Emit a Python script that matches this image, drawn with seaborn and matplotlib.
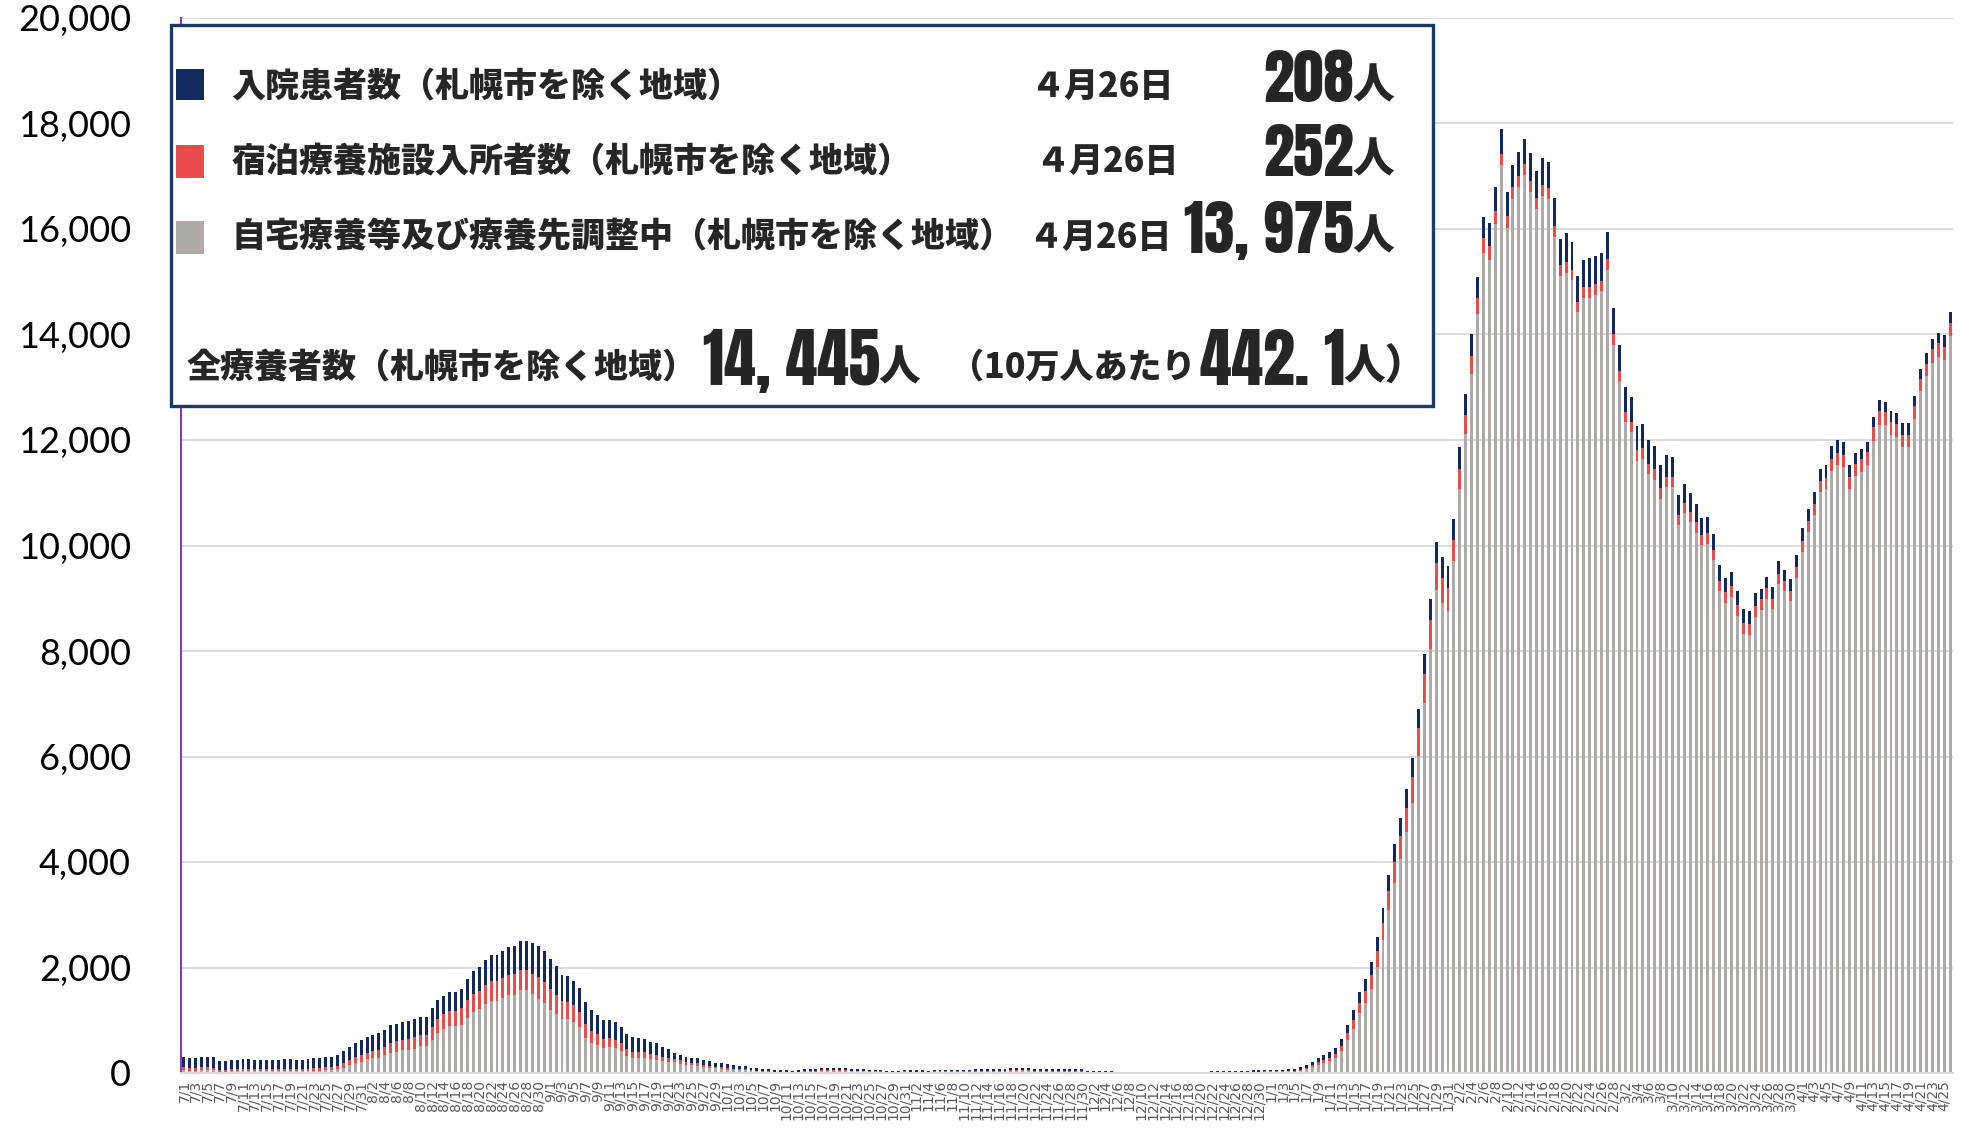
import pandas as pd
import seaborn as sns
import matplotlib.pyplot as plt
from matplotlib.patches import Rectangle

# 全療養者数（札幌市を除く地域）日別 7/1 - 4/26
total_jul = [305, 290, 290, 305, 305, 300, 223, 223, 248, 255, 268, 268, 255, 248, 248, 248, 255, 268,
             268, 248, 248, 268, 280, 287, 300, 300, 338, 408, 497, 573, 618]
total_aug = [688, 726, 752, 815, 905, 936, 962, 987, 1019, 1070, 1070, 1223, 1376, 1465, 1542, 1542,
             1599, 1790, 1930, 2013, 2140, 2230, 2230, 2312, 2395, 2408, 2503, 2503, 2459, 2401, 2312]
total_sep = [2153, 2026, 1860, 1835, 1745, 1605, 1344, 1198, 1108, 1013, 1013, 962, 879, 739, 675,
             662, 643, 580, 560, 484, 452, 382, 344, 306, 293, 280, 242, 223, 197, 185]
total_oct = [166, 153, 140, 127, 102, 89, 76, 70, 62, 55, 54, 40, 54, 81, 81, 81, 100, 100, 100, 100,
             100, 81, 81, 81, 61, 61, 61, 47, 47, 47, 61]
total_nov = [54, 54, 54, 40, 61, 61, 61, 61, 61, 61, 61, 74, 81, 81, 74, 74, 81, 95, 95, 95, 95, 81,
             81, 81, 81, 81, 81, 74, 74, 74]
total_dec = [47, 47, 40, 40, 34, 27, 27, 27, 27, 27, 27, 27, 20, 20, 20, 27, 27, 27, 27, 27, 27, 40,
             40, 40, 40, 40, 40, 40, 54, 54, 61]
total_jan = [61, 61, 61, 81, 74, 108, 156, 217, 291, 345, 393, 475, 653, 914, 1187, 1543, 1780, 2101,
             2576, 3134, 3763, 4333, 4831, 5377, 5971, 6908, 7941, 8986, 10066, 9781, 9603]
total_feb = [10505, 11870, 12867, 14007, 15099, 16226, 16108, 16796, 17888, 16701, 17212, 17461,
             17698, 17437, 17105, 17354, 17271, 16582, 15811, 15918, 15763, 15111, 15407, 15443,
             15490, 15538, 15941, 14505]
total_mar = [13793, 13010, 12808, 12262, 12309, 12000, 11886, 11520, 11713, 11684, 10961, 11173,
             10999, 10787, 10517, 10537, 10209, 9621, 9380, 9495, 9139, 8801, 8753, 9091, 9177, 9409,
             9206, 9698, 9544, 9370, 9823]
total_apr = [10324, 10691, 11019, 11452, 11529, 11886, 11992, 11954, 11529, 11761, 11838, 11954,
             12436, 12763, 12725, 12551, 12513, 12320, 12320, 12831, 13351, 13641, 13911, 14026,
             13988, 14435]

# 入院患者数
hosp_jul = [200, 195, 195, 200, 200, 200, 175, 175, 180, 180, 185, 185, 180, 178, 178, 178, 180, 185,
            185, 178, 178, 185, 188, 190, 195, 195, 205, 225, 245, 265, 275]
hosp_aug = [300, 310, 315, 320, 330, 335, 335, 340, 345, 345, 345, 344, 350, 355, 360, 360, 370, 410,
            430, 450, 470, 490, 495, 510, 530, 540, 554, 553, 575, 590, 590]
hosp_sep = [570, 550, 500, 480, 460, 440, 420, 400, 370, 360, 350, 330, 310, 286, 270, 260, 250, 223,
            210, 180, 160, 108, 100, 100, 95, 95, 90, 85, 80, 75]
hosp_oct = [75, 70, 65, 60, 50, 45, 40, 38, 34, 30, 30, 22, 30, 40, 40, 40, 45, 45, 45, 45, 45, 38,
            38, 38, 30, 30, 30, 24, 24, 24, 30]
hosp_nov = [28, 28, 28, 22, 30, 30, 30, 30, 30, 30, 30, 34, 38, 38, 34, 34, 38, 42, 42, 42, 42, 38,
            38, 38, 38, 38, 38, 34, 34, 34]
hosp_dec = [26, 26, 22, 22, 20, 16, 16, 16, 16, 16, 16, 16, 12, 12, 12, 16, 16, 16, 16, 16, 16, 22,
            22, 22, 22, 22, 22, 22, 28, 28, 30]
hosp_jan = [30, 30, 30, 40, 38, 50, 60, 70, 85, 95, 105, 120, 140, 160, 185, 210, 230, 250, 270, 290,
            310, 330, 345, 355, 365, 375, 380, 390, 392, 395, 400]
hosp_feb = [400, 415, 400, 420, 410, 403, 430, 450, 463, 450, 415, 450, 463, 520, 510, 520, 500, 534,
            500, 546, 534, 487, 510, 546, 534, 522, 510, 500]
hosp_mar = [480, 470, 460, 455, 455, 450, 440, 430, 405, 376, 376, 366, 366, 347, 318, 308, 300, 290,
            270, 270, 270, 270, 240, 240, 200, 222, 212, 240, 212, 231, 231]
hosp_apr = [240, 231, 231, 222, 241, 250, 231, 241, 222, 212, 193, 183, 193, 222, 193, 202, 212, 222,
            222, 193, 193, 193, 193, 193, 222, 208]

# 宿泊療養施設入所者数
hotel_jul = [50, 50, 50, 50, 50, 50, 30, 30, 32, 34, 36, 36, 34, 32, 32, 32, 34, 36, 36, 34, 34, 40,
             45, 50, 55, 55, 65, 80, 100, 115, 125]
hotel_aug = [130, 140, 145, 155, 190, 195, 200, 205, 210, 220, 220, 249, 270, 285, 300, 300, 310, 330,
             340, 350, 360, 370, 370, 375, 380, 385, 370, 370, 390, 400, 400]
hotel_sep = [380, 360, 340, 330, 320, 300, 260, 230, 200, 180, 175, 160, 150, 130, 120, 115, 110, 100,
             95, 85, 80, 70, 65, 55, 50, 45, 40, 35, 30, 28]
hotel_oct = [25, 22, 20, 18, 14, 12, 10, 10, 9, 8, 8, 6, 8, 14, 14, 14, 18, 18, 18, 18, 18, 14, 14, 14,
             10, 10, 10, 8, 8, 8, 10]
hotel_nov = [10, 10, 10, 6, 12, 12, 12, 12, 12, 12, 12, 16, 18, 18, 16, 16, 18, 22, 22, 22, 22, 18, 18,
             18, 18, 18, 18, 14, 14, 14]
hotel_dec = [6, 6, 5, 5, 4, 3, 3, 3, 3, 3, 3, 3, 2, 2, 2, 3, 3, 3, 3, 3, 3, 5, 5, 5, 5, 5, 5, 5, 8, 8, 10]
hotel_jan = [10, 10, 10, 12, 12, 18, 25, 35, 45, 55, 65, 80, 100, 130, 160, 190, 220, 250, 290, 320,
             360, 400, 430, 460, 490, 520, 540, 558, 510, 470, 450]
hotel_feb = [400, 380, 350, 330, 300, 280, 270, 260, 215, 230, 220, 215, 210, 210, 210, 205, 200, 200,
             200, 200, 200, 200, 200, 200, 200, 200, 200, 200]
hotel_mar = [200, 200, 200, 205, 205, 202, 205, 212, 205, 200, 193, 195, 195, 195, 193, 195, 193, 193,
             195, 200, 205, 212, 205, 200, 195, 193, 193, 193, 195, 200, 205]
hotel_apr = [210, 212, 212, 212, 220, 225, 231, 231, 235, 240, 245, 250, 260, 255, 250, 245, 241, 240,
             240, 235, 231, 240, 250, 260, 255, 252]

total = (total_jul + total_aug + total_sep + total_oct + total_nov + total_dec
         + total_jan + total_feb + total_mar + total_apr)
hosp = (hosp_jul + hosp_aug + hosp_sep + hosp_oct + hosp_nov + hosp_dec
        + hosp_jan + hosp_feb + hosp_mar + hosp_apr)
hotel = (hotel_jul + hotel_aug + hotel_sep + hotel_oct + hotel_nov + hotel_dec
         + hotel_jan + hotel_feb + hotel_mar + hotel_apr)

days = pd.date_range("2021-07-01", "2022-04-26")
labels = [f"{d.month}/{d.day}" for d in days]

df = pd.DataFrame({"date": labels, "total": total, "hosp": hosp, "hotel": hotel})
df["home"] = df["total"] - df["hosp"] - df["hotel"]
df["home_hotel"] = df["home"] + df["hotel"]

navy = "#13295E"
red = "#E84C4C"
gray = "#AEAAAA"

sns.set_style("white")
plt.rcParams["font.family"] = ["Lato", "Noto Sans CJK JP", "DejaVu Sans"]

fig = plt.figure(figsize=(19.72, 11.34), dpi=100)
ax = fig.add_axes([181 / 1972, 1 - 1073 / 1134, (1953 - 181) / 1972, (1073 - 18) / 1134])

# 積み上げ：全体(紺) → 宿泊+自宅(赤) → 自宅(灰)
sns.barplot(data=df, x="date", y="total", color=navy, width=0.5, saturation=1,
            linewidth=0, errorbar=None, ax=ax)
sns.barplot(data=df, x="date", y="home_hotel", color=red, width=0.5, saturation=1,
            linewidth=0, errorbar=None, ax=ax)
sns.barplot(data=df, x="date", y="home", color=gray, width=0.5, saturation=1,
            linewidth=0, errorbar=None, ax=ax)

ax.set_xlim(-0.5, len(labels) - 0.5)
ax.set_ylim(0, 20000)
ax.set_xlabel("")
ax.set_ylabel("")
ax.set_xticks(range(0, len(labels), 2))
ax.set_xticklabels(labels[::2], rotation=90, fontsize=10, color="#595959", family="DejaVu Sans")
yt = list(range(0, 20001, 2000))
ax.set_yticks(yt)
ax.set_yticklabels([f"{v:,}" for v in yt], fontsize=26, color="black")
ax.tick_params(axis="x", length=0, pad=5)
ax.tick_params(axis="y", length=0, pad=36)
ax.yaxis.grid(True, color="#d9d9d9", linewidth=1.3)
ax.set_axisbelow(True)
for s in ["top", "right"]:
    ax.spines[s].set_visible(False)
ax.spines["bottom"].set_color("#d9d9d9")
ax.spines["bottom"].set_linewidth(1.5)
ax.spines["left"].set_color("#7B3FBF")
ax.spines["left"].set_linewidth(1.5)


def fx(x):
    return x / 1972


def fy(y):
    return 1 - y / 1134


# 凡例ボックス
fig.add_artist(Rectangle((fx(171), fy(406)), (1433 - 171) / 1972, (406 - 25) / 1134,
                         transform=fig.transFigure, facecolor="white", edgecolor="#203864",
                         linewidth=2.4, zorder=5))

jp = ["Noto Sans CJK JP", "DejaVu Sans"]
big = ["Anton", "Oswald", "Noto Sans CJK JP"]
jp_kw = dict(family=jp, fontsize=24.5, fontweight="black", va="center", ha="left", zorder=7)
num_kw = dict(family=big, fontsize=44, fontweight="bold", va="center", ha="right", zorder=7)
unit_kw = dict(family=jp, fontsize=30, fontweight="black", va="center", ha="left", zorder=7)

rows = [
    (navy, 69, 100, 86, "入院患者数（札幌市を除く地域）", 1030, "208", 80),
    (red, 145, 178, 161, "宿泊療養施設入所者数（札幌市を除く地域）", 1035, "252", 154),
    (gray, 221, 254, 237, "自宅療養等及び療養先調整中（札幌市を除く地域）", 1028, "13, 975", 231),
]
for col, y0, y1, yc, name, xd, num, yn in rows:
    fig.add_artist(Rectangle((fx(176), fy(y1)), 28 / 1972, (y1 - y0) / 1134,
                             transform=fig.transFigure, facecolor=col, edgecolor="none", zorder=6))
    fig.text(fx(231), fy(yc), name, **jp_kw)
    fig.text(fx(xd), fy(yc), "４月26日", **jp_kw)
    fig.text(fx(1354), fy(yn), num, **num_kw)
    fig.text(fx(1352), fy(yn + 6), "人", **unit_kw)

fig.text(fx(187), fy(367), "全療養者数（札幌市を除く地域）", **jp_kw)
fig.text(fx(880), fy(361), "14, 445", **{**num_kw, "fontsize": 46})
fig.text(fx(878), fy(368), "人", **unit_kw)
fig.text(fx(950), fy(367), "（10万人あたり", **jp_kw)
fig.text(fx(1345), fy(361), "442. 1", **{**num_kw, "fontsize": 46})
fig.text(fx(1343), fy(368), "人）", **unit_kw)

fig.savefig("out.png", dpi=100)
